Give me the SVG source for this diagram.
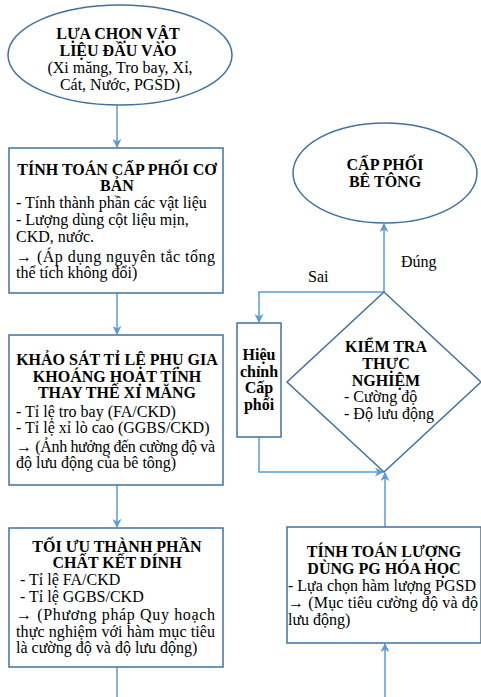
<svg xmlns="http://www.w3.org/2000/svg" width="481" height="697" viewBox="0 0 481 697">
<style>
.shape{fill:#fff;stroke:#41719C;stroke-width:1.5}
.conn{fill:none;stroke:#5B9BD5;stroke-width:1.5}
.t{font-weight:bold;text-anchor:middle}
.c{text-anchor:middle}
</style>
<defs>
<marker id="ah" viewBox="0 0 10 10" refX="9" refY="5" markerWidth="9" markerHeight="9" orient="auto" markerUnits="userSpaceOnUse">
<path d="M0,0 L10,5 L0,10 L3,5 z" fill="#5B9BD5"/>
</marker>
</defs>
<rect width="481" height="697" fill="#fff"/>
<g font-family="Liberation Serif, serif" font-size="16" fill="#000">
<g id="connectors">
<line class="conn" x1="117" y1="105" x2="117" y2="147" marker-end="url(#ah)"/>
<line class="conn" x1="117" y1="293" x2="117" y2="334" marker-end="url(#ah)"/>
<line class="conn" x1="117" y1="485" x2="117" y2="527" marker-end="url(#ah)"/>
<line class="conn" x1="117" y1="667" x2="117" y2="697"/>
<line class="conn" x1="384" y1="292" x2="384" y2="224" marker-end="url(#ah)"/>
<polyline class="conn" points="384,292 259,292 259,322" marker-end="url(#ah)"/>
<polyline class="conn" points="259,437 259,472 383,472" marker-end="url(#ah)"/>
<line class="conn" x1="385" y1="527" x2="385" y2="473" marker-end="url(#ah)"/>
<line class="conn" x1="385" y1="697" x2="385" y2="644" marker-end="url(#ah)"/>
<text x="401" y="267">Đúng</text>
<text x="308" y="282">Sai</text>
</g>
<g id="n1">
<ellipse class="shape" cx="120" cy="55" rx="112" ry="50"/>
<text class="t" x="118" y="39">LỰA CHỌN VẬT</text>
<text class="t" x="118" y="56">LIỆU ĐẦU VÀO</text>
<text class="c" x="120" y="73">(Xi măng, Tro bay, Xỉ,</text>
<text class="c" x="120" y="90">Cát, Nước, PGSD)</text>
</g>
<g id="n2">
<rect class="shape" x="9" y="148" width="214" height="145"/>
<text class="t" x="117" y="175">TÍNH TOÁN CẤP PHỐI CƠ</text>
<text class="t" x="117" y="191">BẢN</text>
<text x="16" y="208">- Tính thành phần các vật liệu</text>
<text x="16" y="225">- Lượng dùng cột liệu mịn,</text>
<text x="16" y="242">CKD, nước.</text>
<text x="16" y="262" textLength="199" lengthAdjust="spacing">→ (Áp dụng nguyên tắc tổng</text>
<text x="16" y="278">thể tích không đổi)</text>
</g>
<g id="n3">
<rect class="shape" x="9" y="335" width="214" height="150"/>
<text class="t" x="117" y="365">KHẢO SÁT TỈ LỆ PHỤ GIA</text>
<text class="t" x="117" y="382">KHOÁNG HOẠT TÍNH</text>
<text class="t" x="117" y="398">THAY THẾ XI MĂNG</text>
<text x="16" y="417">- Tỉ lệ tro bay (FA/CKD)</text>
<text x="16" y="433">- Tỉ lệ xỉ lò cao (GGBS/CKD)</text>
<text x="16" y="452" textLength="199" lengthAdjust="spacing">→ (Ảnh hưởng đến cường độ và</text>
<text x="16" y="468">độ lưu động của bê tông)</text>
</g>
<g id="n4">
<rect class="shape" x="9" y="528" width="214" height="139"/>
<text class="t" x="117" y="552">TỐI ƯU THÀNH PHẦN</text>
<text class="t" x="117" y="568">CHẤT KẾT DÍNH</text>
<text x="20" y="585">- Tỉ lệ FA/CKD</text>
<text x="20" y="602">- Tỉ lệ GGBS/CKD</text>
<text x="16" y="620" textLength="199" lengthAdjust="spacing">→ (Phương pháp Quy hoạch</text>
<text x="16" y="637" textLength="199" lengthAdjust="spacing">thực nghiệm với hàm mục tiêu</text>
<text x="16" y="653">là cường độ và độ lưu động)</text>
</g>
<g id="n5">
<ellipse class="shape" cx="385" cy="173" rx="92" ry="50"/>
<text class="t" x="385" y="170">CẤP PHỐI</text>
<text class="t" x="385" y="187">BÊ TÔNG</text>
</g>
<g id="n6">
<polygon class="shape" points="384,292 481,382 384,472 287,382"/>
<text class="t" x="386" y="352">KIỂM TRA</text>
<text class="t" x="386" y="369">THỰC</text>
<text class="t" x="386" y="386">NGHIỆM</text>
<text x="344" y="402">- Cường độ</text>
<text x="344" y="419">- Độ lưu động</text>
</g>
<g id="n7">
<rect class="shape" x="237" y="323" width="44" height="114"/>
<text class="t" x="259" y="360">Hiệu</text>
<text class="t" x="259" y="377">chỉnh</text>
<text class="t" x="259" y="393">Cấp</text>
<text class="t" x="259" y="410">phối</text>
</g>
<g id="n8">
<rect class="shape" x="287" y="527" width="194" height="116"/>
<text class="t" x="384" y="557">TÍNH TOÁN LƯỢNG</text>
<text class="t" x="384" y="574">DÙNG PG HÓA HỌC</text>
<text x="288" y="591">- Lựa chọn hàm lượng PGSD</text>
<text x="288" y="608" textLength="190" lengthAdjust="spacing">→ (Mục tiêu cường độ và độ</text>
<text x="288" y="625">lưu động)</text>
</g>
</g>
</svg>
